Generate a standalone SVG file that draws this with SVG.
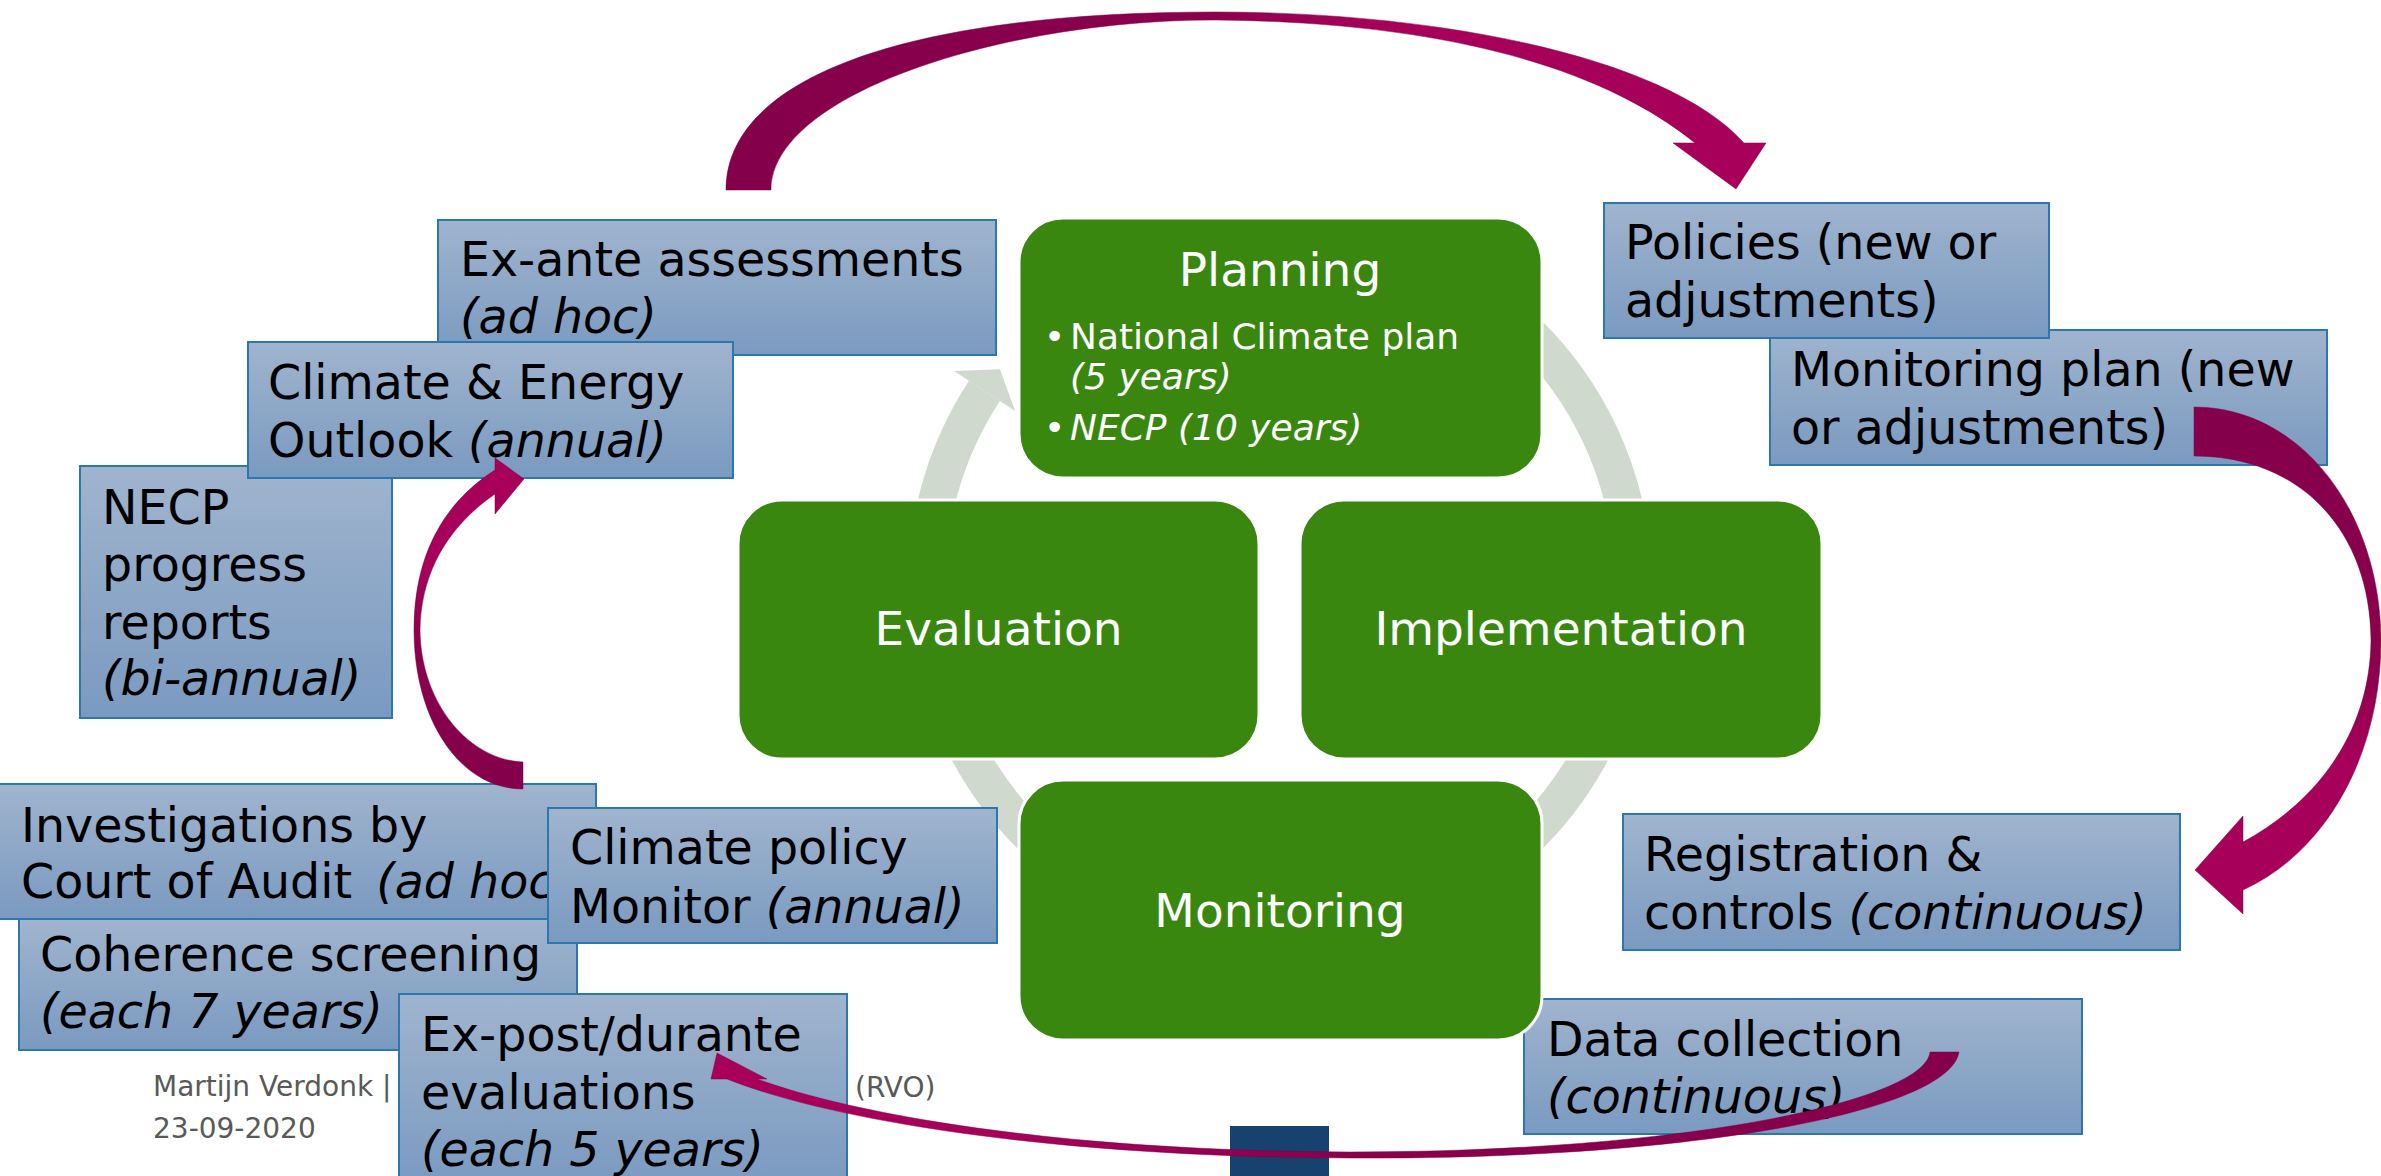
<svg xmlns="http://www.w3.org/2000/svg" width="2381" height="1176" viewBox="0 0 2381 1176">
<defs>
  <linearGradient id="blueg" x1="0" y1="0" x2="0" y2="1">
    <stop offset="0" stop-color="#A0B4CE"/>
    <stop offset="1" stop-color="#7A9AC0"/>
  </linearGradient>
  <linearGradient id="gTop" gradientUnits="userSpaceOnUse" x1="726" y1="0" x2="1766" y2="0">
    <stop offset="0" stop-color="#85004A"/>
    <stop offset="0.45" stop-color="#8A004C"/>
    <stop offset="0.62" stop-color="#A6005A"/>
    <stop offset="1" stop-color="#A8005A"/>
  </linearGradient>
  <linearGradient id="gRight" gradientUnits="userSpaceOnUse" x1="0" y1="407" x2="0" y2="914">
    <stop offset="0" stop-color="#85004A"/>
    <stop offset="0.5" stop-color="#8A004C"/>
    <stop offset="0.7" stop-color="#A6005A"/>
    <stop offset="1" stop-color="#A8005A"/>
  </linearGradient>
  <linearGradient id="gLeft" gradientUnits="userSpaceOnUse" x1="0" y1="789" x2="0" y2="458">
    <stop offset="0" stop-color="#85004A"/>
    <stop offset="0.45" stop-color="#8A004C"/>
    <stop offset="0.65" stop-color="#A6005A"/>
    <stop offset="1" stop-color="#A8005A"/>
  </linearGradient>
  <linearGradient id="gBottom" gradientUnits="userSpaceOnUse" x1="1959" y1="0" x2="711" y2="0">
    <stop offset="0" stop-color="#85004A"/>
    <stop offset="0.5" stop-color="#8A004C"/>
    <stop offset="0.75" stop-color="#A6005A"/>
    <stop offset="1" stop-color="#A8005A"/>
  </linearGradient>
</defs>
<style>
  .box{fill:url(#blueg);stroke:#2A78AE;stroke-width:2}
  .t{font-family:"DejaVu Sans",Verdana,sans-serif;font-size:47.5px;fill:#000}
  .i{font-style:italic}
  .g{fill:#39870F;stroke:#ffffff;stroke-width:3}
  .gt{font-family:"DejaVu Sans",Verdana,sans-serif;font-size:47px;fill:#ffffff;text-anchor:middle}
  .gb{font-family:"DejaVu Sans",Verdana,sans-serif;font-size:36px;fill:#ffffff}
  .ring{fill:none;stroke:#CFD9CD;stroke-width:37}
  .ringh{fill:#CFD9CD}
  .foot{font-family:"DejaVu Sans",Verdana,sans-serif;font-size:28px;fill:#595959}
  .arr{stroke:#7A0042;stroke-width:0.8;stroke-opacity:0.6}
</style>
<rect width="2381" height="1176" fill="#ffffff"/>

<g id="footer">
  <text class="foot" x="153" y="1096">Martijn Verdonk |</text>
  <text class="foot" x="855" y="1097">(RVO)</text>
  <text class="foot" x="153" y="1138">23-09-2020</text>
  <rect x="1230" y="1126" width="99" height="50" fill="#17416E"/>
</g>

<g id="cycle">
  <path class="ring" d="M 926.5 585 A 353.5 353.5 0 0 1 984.5 390.9"/>
  <polygon class="ringh" points="954,370.9 999.9,369.3 1015.1,411"/>
  <path class="ring" d="M 1456.75 278.9 A 353.5 353.5 0 0 1 1612.2 705.9"/>
  <path class="ring" d="M 1628.1 646.4 A 353.5 353.5 0 0 1 1218.6 933.1"/>
  <path class="ring" d="M 1249.2 937.2 A 353.5 353.5 0 0 1 931.9 646.4"/>
</g>

<g id="data-collection">
  <rect class="box" x="1524" y="999" width="558" height="135"/>
  <text class="t" x="1547" y="1056">Data collection</text>
  <text class="t i" x="1547" y="1113">(continuous)</text>
</g>

<g id="planning">
  <rect class="g" x="1019" y="218" width="523" height="260" rx="44"/>
  <text class="gt" x="1280" y="286">Planning</text>
  <text class="gb" x="1044" y="349">•</text>
  <text class="gb" x="1070" y="349">National Climate plan</text>
  <text class="gb i" x="1070" y="389">(5 years)</text>
  <text class="gb" x="1044" y="440">•</text>
  <text class="gb i" x="1070" y="440">NECP (10 years)</text>
</g>
<g id="evaluation">
  <rect class="g" x="738" y="500" width="521" height="259" rx="44"/>
  <text class="gt" x="998.5" y="645">Evaluation</text>
</g>
<g id="implementation">
  <rect class="g" x="1300" y="500" width="522" height="259" rx="44"/>
  <text class="gt" x="1561" y="645">Implementation</text>
</g>
<g id="monitoring">
  <rect class="g" x="1019" y="780" width="523" height="260" rx="44"/>
  <text class="gt" x="1280" y="927">Monitoring</text>
</g>

<g id="ex-ante">
  <rect class="box" x="438" y="220" width="558" height="135"/>
  <text class="t" x="460" y="276">Ex-ante assessments</text>
  <text class="t i" x="460" y="333">(ad hoc)</text>
</g>
<g id="necp-progress">
  <rect class="box" x="80" y="466" width="312" height="252"/>
  <text class="t" x="102" y="524">NECP</text>
  <text class="t" x="102" y="581">progress</text>
  <text class="t" x="102" y="639">reports</text>
  <text class="t i" x="102" y="695">(bi-annual)</text>
</g>
<g id="climate-energy-outlook">
  <rect class="box" x="248" y="342" width="485" height="136"/>
  <text class="t" x="268" y="399">Climate &amp; Energy</text>
  <text class="t" x="268" y="457">Outlook <tspan class="i">(annual)</tspan></text>
</g>
<g id="monitoring-plan">
  <rect class="box" x="1770" y="330" width="557" height="135"/>
  <text class="t" x="1791" y="386">Monitoring plan (new</text>
  <text class="t" x="1791" y="444">or adjustments)</text>
</g>
<g id="policies">
  <rect class="box" x="1604" y="203" width="445" height="135"/>
  <text class="t" x="1625" y="259">Policies (new or</text>
  <text class="t" x="1625" y="317">adjustments)</text>
</g>
<g id="registration">
  <rect class="box" x="1623" y="814" width="557" height="136"/>
  <text class="t" x="1644" y="871">Registration &amp;</text>
  <text class="t" x="1644" y="929">controls <tspan class="i">(continuous)</tspan></text>
</g>
<g id="investigations">
  <rect class="box" x="-1" y="784" width="597" height="135"/>
  <text class="t" x="21" y="842">Investigations by</text>
  <text class="t" x="21" y="898">Court of Audit <tspan class="i" dx="9">(ad hoc)</tspan></text>
</g>
<g id="coherence">
  <rect class="box" x="19" y="919" width="558" height="131"/>
  <text class="t" x="40" y="971">Coherence screening</text>
  <text class="t i" x="40" y="1028">(each 7 years)</text>
</g>
<g id="climate-policy-monitor">
  <rect class="box" x="548" y="808" width="449" height="135"/>
  <text class="t" x="570" y="864">Climate policy</text>
  <text class="t" x="570" y="923">Monitor <tspan class="i">(annual)</tspan></text>
</g>
<g id="ex-post">
  <rect class="box" x="399" y="994" width="448" height="192"/>
  <text class="t" x="421" y="1051">Ex-post/durante</text>
  <text class="t" x="421" y="1109">evaluations</text>
  <text class="t i" x="421" y="1166">(each 5 years)</text>
</g>

<g id="connectors">
  <path class="arr" fill="url(#gTop)" d="M 726 190 C 726 80, 900 12, 1215 12 C 1450 12, 1670 60, 1744 143 L 1766 143 L 1736 189 L 1673 143 L 1695 143 C 1600 66, 1440 22, 1215 20 C 1000 20, 771 95, 771 190 Z"/>
  <path class="arr" fill="url(#gRight)" d="M 2194 407 C 2300 407, 2380 510, 2381 640 C 2381 750, 2330 850, 2243 890 L 2243 914 L 2195 870 L 2243 816 L 2243 842 C 2320 800, 2370 730, 2371 640 C 2370 530, 2300 456, 2194 456 Z"/>
  <path class="arr" fill="url(#gLeft)" d="M 523 789 C 460 789, 414 720, 414 630 C 414 560, 440 505, 495 470 L 495 458 L 524 479 L 495 514 L 495 494 C 450 525, 421 570, 420 630 C 421 705, 470 760, 523 762 Z"/>
  <path class="arr" fill="url(#gBottom)" d="M 1930 1052 L 1959 1052 C 1950 1110, 1700 1160, 1350 1158 C 1050 1157, 830 1120, 727 1079 L 711 1079 L 717 1053 L 767 1079 L 757 1079 C 850 1113, 1050 1151, 1350 1152 C 1690 1152, 1925 1100, 1930 1052 Z"/>
</g>
</svg>
